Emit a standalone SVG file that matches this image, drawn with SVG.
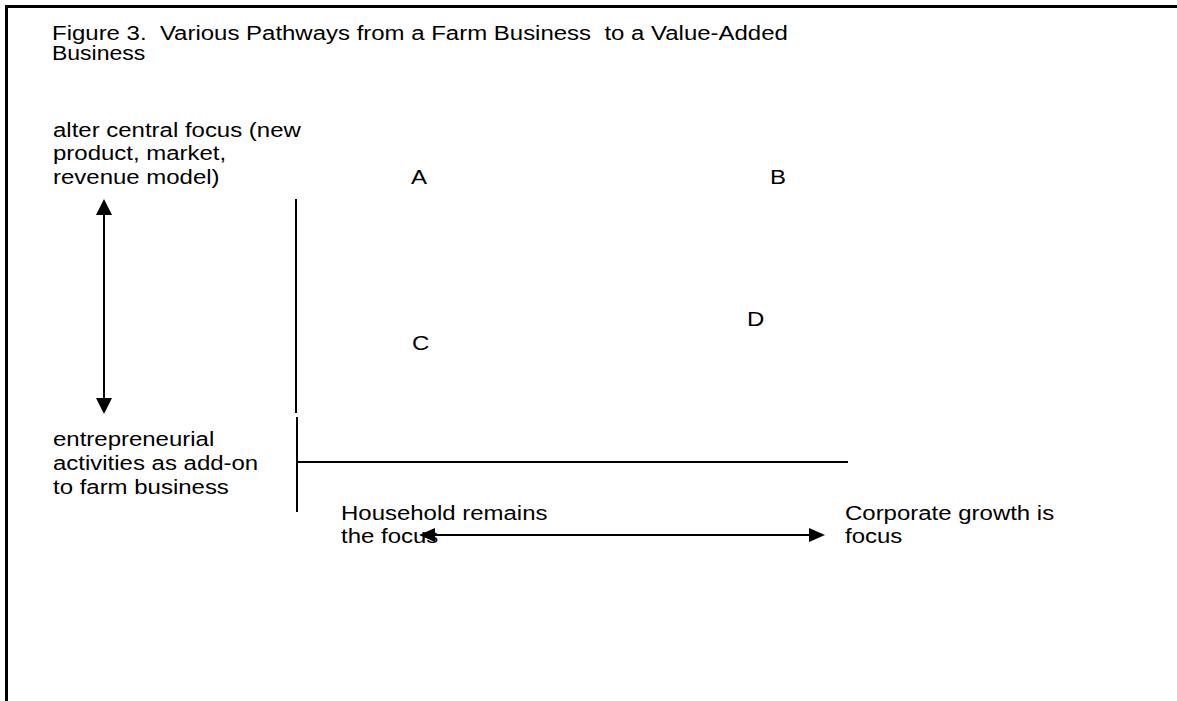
<svg xmlns="http://www.w3.org/2000/svg" width="1177" height="701" viewBox="0 0 1177 701">
<style>
text{font-family:"Liberation Sans",Arial,sans-serif;font-size:19.5px;fill:#000}
.ln{stroke:#000;stroke-width:2;fill:none}
.frame{stroke:#000;stroke-width:3;fill:none}
.head{fill:#000}
</style>
<rect width="1177" height="701" fill="#fff"/>
<path class="frame" d="M6.5,701 V6.5 H1177"/>
<g id="title">
<text transform="matrix(1.23,0,0,1,52,40)" xml:space="preserve">Figure 3.  Various Pathways from a Farm Business  to a Value-Added</text>
<text transform="matrix(1.18,0,0,1,52,60)">Business</text>
</g>
<g id="label-top">
<text transform="matrix(1.23,0,0,1,53,137)">alter central focus (new</text>
<text transform="matrix(1.23,0,0,1,53,160)">product, market,</text>
<text transform="matrix(1.23,0,0,1,53,184)">revenue model)</text>
</g>
<g id="label-bottom">
<text transform="matrix(1.23,0,0,1,53,446)">entrepreneurial</text>
<text transform="matrix(1.23,0,0,1,53,470)">activities as add-on</text>
<text transform="matrix(1.23,0,0,1,53,494)">to farm business</text>
</g>
<g id="label-household">
<text transform="matrix(1.23,0,0,1,341,520)">Household remains</text>
<text transform="matrix(1.23,0,0,1,341,543)">the focus</text>
</g>
<g id="label-corporate">
<text transform="matrix(1.23,0,0,1,845,520)">Corporate growth is</text>
<text transform="matrix(1.23,0,0,1,845,543)">focus</text>
</g>
<g id="A"><text transform="matrix(1.23,0,0,1,411,184)">A</text></g>
<g id="B"><text transform="matrix(1.23,0,0,1,770,184)">B</text></g>
<g id="C"><text transform="matrix(1.23,0,0,1,412,350)">C</text></g>
<g id="D"><text transform="matrix(1.23,0,0,1,747,326)">D</text></g>
<g id="connectors">
<line class="ln" x1="104" y1="214" x2="104" y2="399"/>
<path class="head" d="M104,199 L96,215 L112,215 z"/>
<path class="head" d="M104,414 L96,398 L112,398 z"/>
<line class="ln" x1="296" y1="199" x2="296" y2="413"/>
<line class="ln" x1="297" y1="417" x2="297" y2="512"/>
<line class="ln" x1="297" y1="462" x2="848" y2="462"/>
<line class="ln" x1="433" y1="535" x2="811" y2="535"/>
<path class="head" d="M419,535 L435,528 L435,542 z"/>
<path class="head" d="M825,535 L809,528 L809,542 z"/>
</g>
</svg>
